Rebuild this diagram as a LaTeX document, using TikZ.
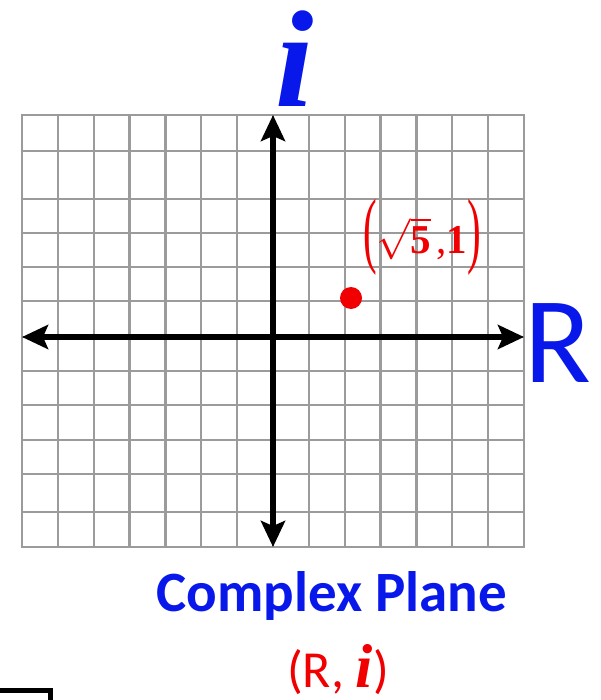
\RequirePackage{fix-cm}
\documentclass[tikz,border=0pt]{standalone}
\usepackage{graphicx}
\usepackage{fontspec}
\setmainfont{Liberation Serif}
\newfontfamily\calibri{Carlito}
\usetikzlibrary{arrows.meta}
\definecolor{planeblue}{RGB}{8,24,235}
\definecolor{pointred}{RGB}{240,0,0}
\definecolor{gridgray}{RGB}{155,155,155}
\newcommand{\tallparen}[1]{\raisebox{-4pt}{\scalebox{1}[2.05]{#1}}}
\begin{document}
\begin{tikzpicture}[x=1pt,y=-1pt,
  gridline/.style={gridgray,line width=2.2pt,line cap=rect},
  axis/.style={line width=6pt,{Stealth[width=24pt,length=26pt,inset=5pt]}-{Stealth[width=24pt,length=26pt,inset=5pt]}},
  lbl/.style={inner sep=0pt}]
\useasboundingbox (0,0) rectangle (601,700);
\foreach \k in {0,...,14}
  \draw[gridline] (22+\k*35.857,115) -- (22+\k*35.857,547);
\foreach \yy in {115,151,199,233,267,301,337,371,405,440,474,512,547}
  \draw[gridline] (22,\yy) -- (524,\yy);
\coordinate (west) at (22,337);
\coordinate (east) at (524,337);
\coordinate (north) at (273,115);
\coordinate (south) at (273,547);
\draw[axis] (west) -- (east);
\draw[axis] (south) -- (north);
\node[circle,fill=pointred,minimum size=22pt,inner sep=0pt] (pt) at (351,298) {};
\node[lbl,pointred,anchor=base] (ptlabel) at (422,254) {\fontsize{41}{48}\selectfont\tallparen{(}$\sqrt{\hbox{\fontsize{41}{48}\selectfont\bfseries 5}}$\hspace{5pt},\textbf{1}\tallparen{)}};
\node[lbl,planeblue,anchor=base] (imag) at (295,107) {\fontsize{138}{140}\selectfont\textbf{\textit{i}}};
\node[lbl,planeblue,anchor=base west] (real) at (524,382) {\calibri\fontsize{123}{130}\selectfont R};
\node[lbl,planeblue,anchor=base] (title) at (332,611) {\calibri\bfseries\fontsize{57}{60}\selectfont Complex Plane};
\node[lbl,pointred,anchor=base] (pair) at (338,687) {\calibri\fontsize{52}{55}\selectfont(R, {\rmfamily\bfseries\itshape\fontsize{62}{60}\selectfont i})};
\draw[line width=5pt] (0,690) -- (50.5,690) -- (50.5,700);
\end{tikzpicture}
\end{document}
